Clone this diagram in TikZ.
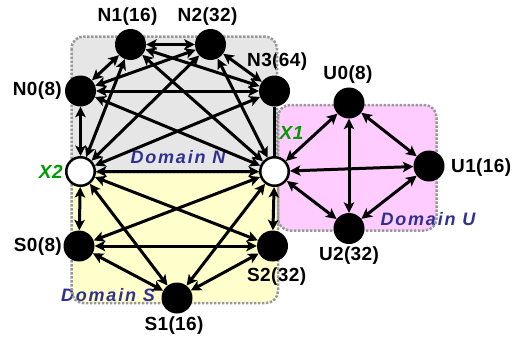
\documentclass[tikz,border=0pt]{standalone}
\usepackage{fontspec}
\setmainfont{Liberation Sans}
\usetikzlibrary{arrows.meta,backgrounds}
\definecolor{dblue}{HTML}{2E3192}
\definecolor{xgreen}{HTML}{009A00}
\definecolor{fillN}{HTML}{E6E6E6}
\definecolor{fillS}{HTML}{FFFFCC}
\definecolor{fillU}{HTML}{FFCCFF}
\definecolor{dotc}{HTML}{999999}
\begin{document}
\begin{tikzpicture}[x=1pt,y=-1pt,
  blk/.style={circle,fill=black,minimum size=31pt,inner sep=0pt},
  wht/.style={circle,fill=white,draw=black,line width=2.5pt,minimum size=28.5pt,inner sep=0pt},
  edge/.style={line width=3pt,{Stealth[length=10.5pt,width=10.5pt,inset=2.5pt]}-{Stealth[length=10.5pt,width=10.5pt,inset=2.5pt]}},
  plain/.style={line width=2.4pt},
  lbl/.style={font=\fontsize{19}{21}\selectfont\bfseries\addfontfeatures{LetterSpace=2},inner sep=0pt},
  xlbl/.style={font=\fontsize{19}{21}\selectfont\bfseries\itshape\addfontfeatures{LetterSpace=3},text=xgreen,inner sep=0pt},
  dlbl/.style={font=\fontsize{18}{20}\selectfont\bfseries\itshape\addfontfeatures{LetterSpace=10},text=dblue,inner sep=0pt},
  dom/.style={rounded corners=12pt,draw=dotc,line width=2.5pt,dash pattern=on 2.5pt off 1.5pt}]
\useasboundingbox (0,0) rectangle (513,341);
% nodes
\node[blk] (N0) at (80.5,91) {};
\node[blk] (N1) at (130.5,44.5) {};
\node[blk] (N2) at (210.5,44.5) {};
\node[blk] (N3) at (274.5,91) {};
\node[wht] (X2) at (80.5,171.5) {};
\node[wht] (X1) at (274.5,171.5) {};
\node[blk] (S0) at (79,246) {};
\node[blk] (S2) at (272.5,246) {};
\node[blk] (S1) at (177,298) {};
\node[blk] (U0) at (349,103) {};
\node[blk] (U1) at (429,166) {};
\node[blk] (U2) at (349,228.5) {};
% domain N edges
\draw[edge] (N0) -- (N1);
\draw[edge] (N1) -- (N2);
\draw[edge] (N2) -- (N3);
\draw[edge] (N0) -- (N3);
\draw[edge] (N0) -- (N2);
\draw[edge] (N1) -- (N3);
\draw[edge] (N0) -- (X2);
\draw[edge] (N0) -- (X1);
\draw[edge] (N1) -- (X2);
\draw[edge] (N1) -- (X1);
\draw[edge] (N2) -- (X2);
\draw[edge] (N2) -- (X1);
\draw[edge] (N3) -- (X2);
\draw[plain] (N3) -- (X1);
\draw[edge] (X2) -- (X1);
% domain S edges
\draw[edge] (X2) -- (S0);
\draw[edge] (X2) -- (S1);
\draw[edge] (X2) -- (S2);
\draw[edge] (X1) -- (S0);
\draw[edge] (X1) -- (S1);
\draw[edge] (X1) -- (S2);
\draw[edge] (S0) -- (S1);
\draw[edge] (S0) -- (S2);
\draw[edge] (S1) -- (S2);
% domain U edges
\draw[edge] (X1) -- (U0);
\draw[edge] (X1) -- (U1);
\draw[edge] (X1) -- (U2);
\draw[edge] (U0) -- (U1);
\draw[edge] (U0) -- (U2);
\draw[edge] (U1) -- (U2);
\begin{pgfonlayer}{background}
% domain fills
\fill[rounded corners=12pt,fillN] (71.5,36.5) rectangle (277,172);
\fill[rounded corners=12pt,fillS] (71.5,172) rectangle (278,303);
\fill[rounded corners=12pt,fillU] (278,105) rectangle (436.5,230.5);
% labels
\node[lbl] (lN1) at (127.5,17) {N1(16)};
\node[lbl] (lN2) at (207.5,17) {N2(32)};
\node[lbl,anchor=west] (lN3) at (247,62) {N3(64)};
\node[lbl,anchor=east] (lN0) at (62,91) {N0(8)};
\node[lbl,anchor=east] (lS0) at (62,247) {S0(8)};
\node[lbl,anchor=west] (lS2) at (247,277) {S2(32)};
\node[lbl] (lS1) at (174,326) {S1(16)};
\node[lbl] (lU0) at (348,75) {U0(8)};
\node[lbl,anchor=west] (lU1) at (451,168) {U1(16)};
\node[lbl] (lU2) at (349,256) {U2(32)};
\node[xlbl,anchor=east] (lX2) at (63,172) {X2};
\node[xlbl] (lX1) at (291.5,133) {X1};
\node[dlbl] (dN) at (178,157) {Domain N};
\node[dlbl] (dS) at (108,295) {Domain S};
\node[dlbl] (dU) at (428,219) {Domain U};
% domain borders
\draw[dom] (71.5,36.5) rectangle (277,172);
\draw[dom] (71.5,172) rectangle (278,303);
\draw[dom] (278,105) rectangle (436.5,230.5);
\end{pgfonlayer}
\end{tikzpicture}
\end{document}
